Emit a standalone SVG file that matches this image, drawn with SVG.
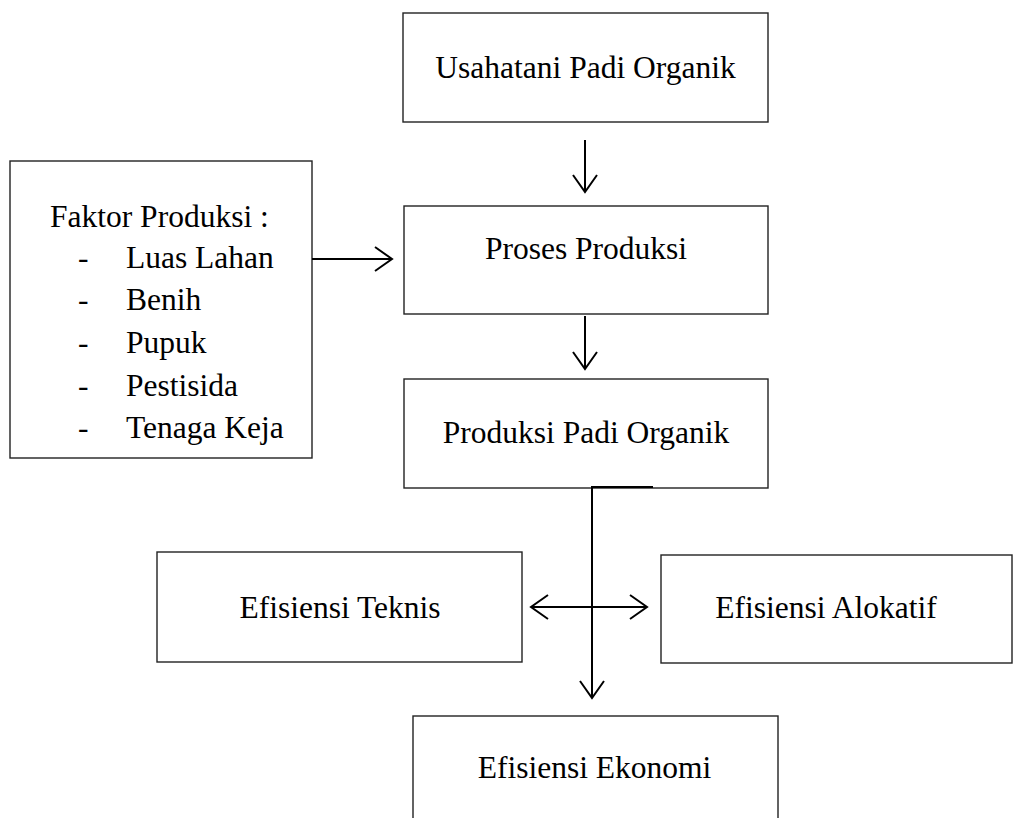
<svg xmlns="http://www.w3.org/2000/svg" width="1015" height="818" viewBox="0 0 1015 818">
<style>
.box{fill:#fff;stroke:#222;stroke-width:1.4}
text{font-family:'Liberation Serif','Times New Roman',Times,'DejaVu Serif',serif;font-size:31.5px;fill:#000}
.c{stroke:#000;stroke-width:2;fill:none}
</style>
<defs>
<marker id="ah" markerUnits="userSpaceOnUse" viewBox="0 0 20 26" refX="18" refY="13" markerWidth="20" markerHeight="26" orient="auto-start-reverse">
<path d="M1,1 L18,13 L1,25" fill="none" stroke="#000" stroke-width="2"/>
</marker>
</defs>
<g id="n-usahatani"><rect class="box" x="403" y="13" width="365" height="109"/><text font-family="Liberation Serif, serif" x="585.5" y="78" text-anchor="middle">Usahatani Padi Organik</text></g>
<g id="n-faktor"><rect class="box" x="10" y="161" width="302" height="297"/>
<text font-family="Liberation Serif, serif" x="50" y="227">Faktor Produksi :</text>
<text font-family="Liberation Serif, serif" x="78" y="268">-</text><text font-family="Liberation Serif, serif" x="126" y="268">Luas Lahan</text>
<text font-family="Liberation Serif, serif" x="78" y="310">-</text><text font-family="Liberation Serif, serif" x="126" y="310">Benih</text>
<text font-family="Liberation Serif, serif" x="78" y="353">-</text><text font-family="Liberation Serif, serif" x="126" y="353">Pupuk</text>
<text font-family="Liberation Serif, serif" x="78" y="396">-</text><text font-family="Liberation Serif, serif" x="126" y="396">Pestisida</text>
<text font-family="Liberation Serif, serif" x="78" y="438">-</text><text font-family="Liberation Serif, serif" x="126" y="438">Tenaga Keja</text>
</g>
<g id="n-proses"><rect class="box" x="404" y="206" width="364" height="108"/><text font-family="Liberation Serif, serif" x="586" y="259" text-anchor="middle">Proses Produksi</text></g>
<g id="n-produksi"><rect class="box" x="404" y="379" width="364" height="109"/><text font-family="Liberation Serif, serif" x="586" y="443" text-anchor="middle">Produksi Padi Organik</text></g>
<g id="n-teknis"><rect class="box" x="157" y="552" width="365" height="110"/><text font-family="Liberation Serif, serif" x="340" y="618" text-anchor="middle">Efisiensi Teknis</text></g>
<g id="n-alokatif"><rect class="box" x="661" y="555" width="351" height="108"/><text font-family="Liberation Serif, serif" x="826" y="618" text-anchor="middle">Efisiensi Alokatif</text></g>
<g id="n-ekonomi"><rect class="box" x="413" y="716" width="365" height="120"/><text font-family="Liberation Serif, serif" x="594.5" y="778" text-anchor="middle">Efisiensi Ekonomi</text></g>
<g id="connectors">
<line class="c" x1="585" y1="140" x2="585" y2="192" marker-end="url(#ah)"/>
<line class="c" x1="312" y1="259" x2="392" y2="259" marker-end="url(#ah)"/>
<line class="c" x1="585" y1="316" x2="585" y2="369" marker-end="url(#ah)"/>
<polyline class="c" points="653,487 592,487 592,698" marker-end="url(#ah)"/>
<line class="c" x1="531" y1="607" x2="647" y2="607" marker-start="url(#ah)" marker-end="url(#ah)"/>
</g>
</svg>
